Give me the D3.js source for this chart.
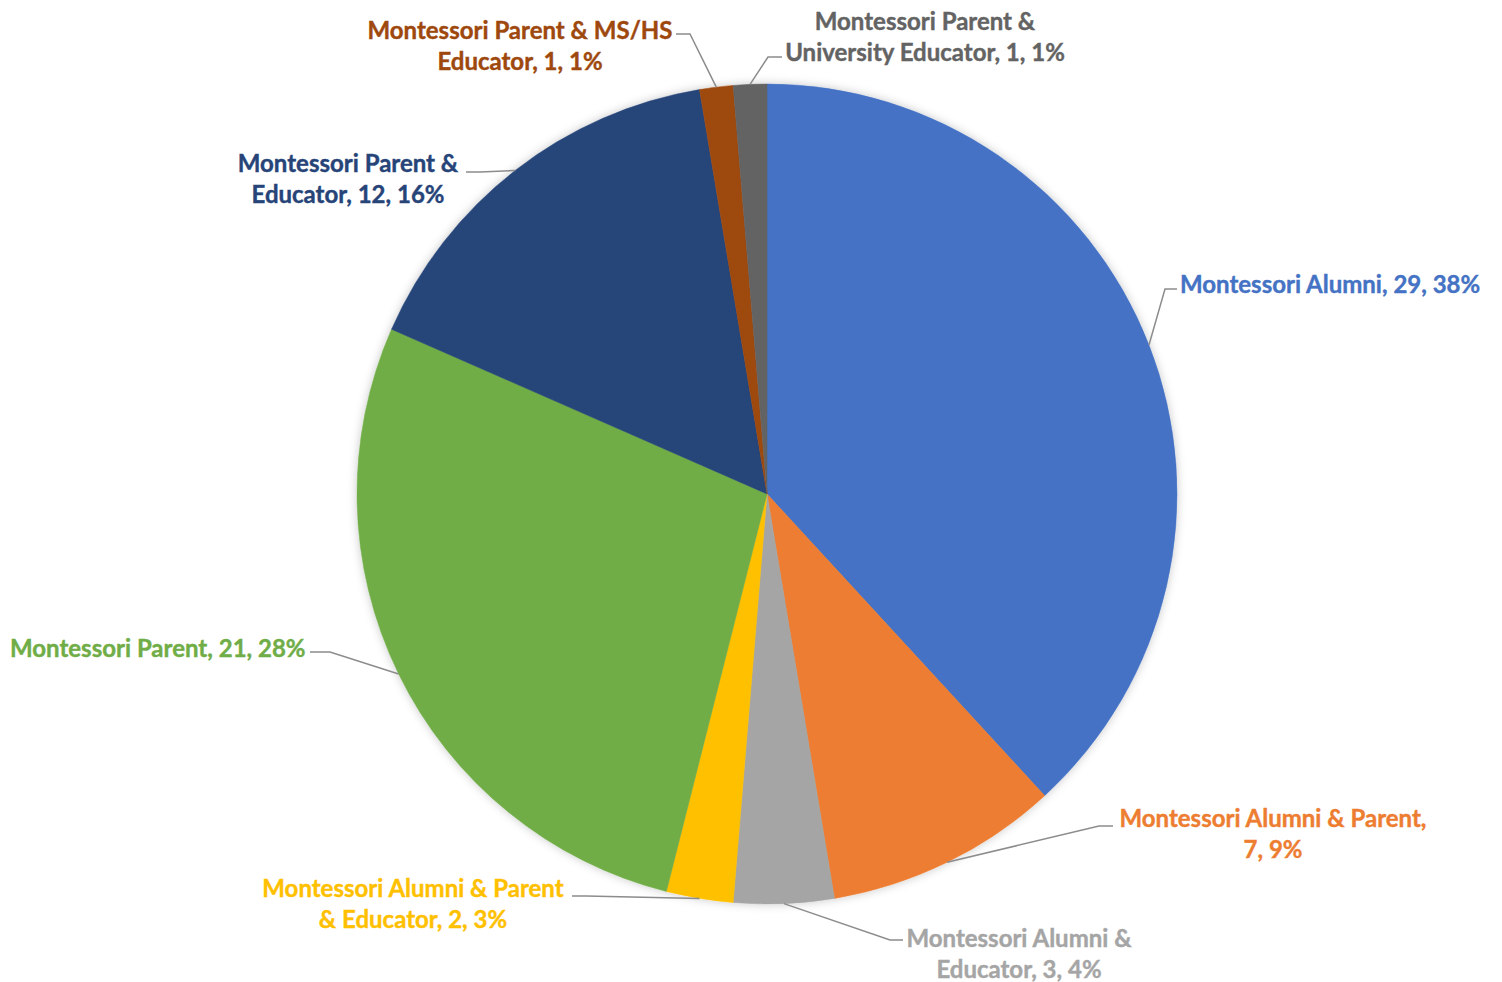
<!DOCTYPE html>
<html>
<head>
<meta charset="utf-8">
<script src="https://cdn.jsdelivr.net/npm/d3@7"></script>
<style>
  html, body { margin: 0; padding: 0; background: #fff; }
  svg { display: block; }
  .lbl { font-family: Lato, "Open Sans", sans-serif; font-weight: 700; }
</style>
</head>
<body>
<svg id="chart"></svg>
<script>
// data, clockwise from 12 o'clock
var categories = [
    "Montessori Alumni",
    "Montessori Alumni & Parent",
    "Montessori Alumni & Educator",
    "Montessori Alumni & Parent & Educator",
    "Montessori Parent",
    "Montessori Parent & Educator",
    "Montessori Parent & MS/HS Educator",
    "Montessori Parent & University Educator"
];
var counts = [29, 7, 3, 2, 21, 12, 1, 1];
var percentLabels = ["38%", "9%", "4%", "3%", "28%", "16%", "1%", "1%"];
var colors = ["#4472C4", "#ED7D31", "#A5A5A5", "#FFC000", "#70AD47", "#264478", "#9E480E", "#636363"];

// how each label is broken into lines, as in the original
var labelLines = [
    ["Montessori Alumni, 29, 38%"],
    ["Montessori Alumni & Parent,", "7, 9%"],
    ["Montessori Alumni &", "Educator, 3, 4%"],
    ["Montessori Alumni & Parent", "& Educator, 2, 3%"],
    ["Montessori Parent, 21, 28%"],
    ["Montessori Parent &", "Educator, 12, 16%"],
    ["Montessori Parent & MS/HS", "Educator, 1, 1%"],
    ["Montessori Parent &", "University Educator, 1, 1%"]
];

// label placement: text anchor point + leader elbow/end
var labelLayout = [
    {x: 1180, y: 293, anchor: "start",  ex: 1177, ey: 289, bx: 1165, by: 289},
    {x: 1273, y: 827, anchor: "middle", ex: 1113, ey: 826, bx: 1099, by: 826},
    {x: 1019, y: 947, anchor: "middle", ex: 903,  ey: 940, bx: 890,  by: 940},
    {x: 413,  y: 897, anchor: "middle", ex: 572,  ey: 896, bx: 586,  by: 896},
    {x: 10,   y: 657, anchor: "start",  ex: 310,  ey: 652, bx: 330,  by: 652},
    {x: 348,  y: 172, anchor: "middle", ex: 466,  ey: 172, bx: 480,  by: 172},
    {x: 520,  y: 39,  anchor: "middle", ex: 676,  ey: 34,  bx: 690,  by: 34},
    {x: 925,  y: 30,  anchor: "middle", ex: 782,  ey: 57,  bx: 768,  by: 57}
];

var width = 1502, height = 982;
var cx = 767, cy = 494, radius = 410;
var lineGap = 31, fontSize = 24;

var svg = d3.select("#chart")
    .attr("width", width)
    .attr("height", height);

var defs = svg.append("defs");
var shadow = defs.append("filter")
    .attr("id", "soft")
    .attr("x", "-10%").attr("y", "-10%")
    .attr("width", "120%").attr("height", "120%");
shadow.append("feDropShadow")
    .attr("dx", 0).attr("dy", 0)
    .attr("stdDeviation", 5)
    .attr("flood-color", "#000")
    .attr("flood-opacity", 0.22);

var rows = categories.map((c, i) => ({
    name: c,
    value: counts[i],
    pct: percentLabels[i],
    color: colors[i],
    lines: labelLines[i],
    pos: labelLayout[i]
}));

var pie = d3.pie()
    .sort(null)
    .value(d => d.value);

var arc = d3.arc()
    .innerRadius(0)
    .outerRadius(radius);

var arcs = pie(rows);

var g = svg.append("g")
    .attr("transform", `translate(${cx},${cy})`);

g.append("g")
    .attr("filter", "url(#soft)")
    .selectAll("path")
    .data(arcs)
    .enter().append("path")
    .attr("d", arc)
    .attr("fill", d => d.data.color)
    .attr("stroke", d => d.data.color)
    .attr("stroke-width", 0.5);

// leader lines start on the rim at mid angle
svg.append("g")
    .selectAll("path")
    .data(arcs)
    .enter().append("path")
    .attr("fill", "none")
    .attr("stroke", "#8c8c8c")
    .attr("stroke-width", 1.5)
    .attr("d", function (d) {
        let mid = (d.startAngle + d.endAngle) / 2;
        let sx = cx + radius * Math.sin(mid);
        let sy = cy - radius * Math.cos(mid);
        let p = d.data.pos;
        return d3.line()([[sx, sy], [p.bx, p.by], [p.ex, p.ey]]);
    });

var labels = svg.append("g")
    .selectAll("text")
    .data(arcs)
    .enter().append("text")
    .attr("class", "lbl")
    .attr("font-size", fontSize)
    .attr("fill", d => d.data.color)
    .attr("stroke", d => d.data.color)
    .attr("stroke-width", 0.4)
    .attr("text-anchor", d => d.data.pos.anchor)
    .attr("x", d => d.data.pos.x)
    .attr("y", d => d.data.pos.y);

labels.selectAll("tspan")
    .data(d => d.data.lines.map(l => ({text: l, x: d.data.pos.x})))
    .enter().append("tspan")
    .attr("x", d => d.x)
    .attr("dy", (d, i) => i ? lineGap : 0)
    .text(d => d.text);
</script>
</body>
</html>
